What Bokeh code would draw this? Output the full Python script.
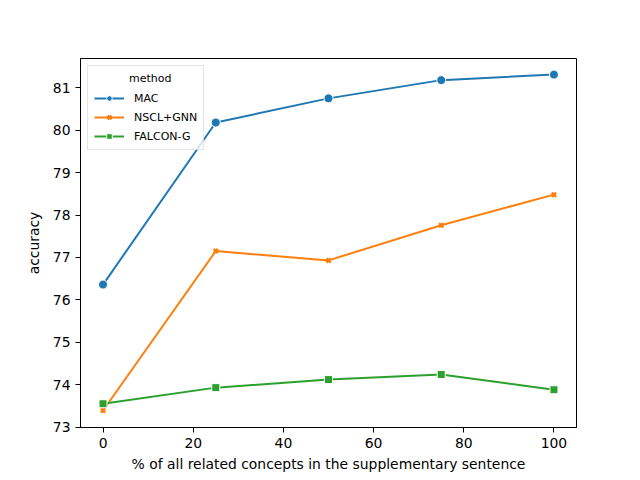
from bokeh.plotting import figure
from bokeh.models import FixedTicker, Range1d, Legend, LegendItem
from bokeh.embed import file_html
from bokeh.resources import INLINE

x_vals = [0, 25, 50, 75, 100]
mac = [76.36, 80.18, 80.75, 81.18, 81.31]
nscl_gnn = [73.39, 77.15, 76.93, 77.76, 78.48]
falcon_g = [73.55, 73.93, 74.12, 74.24, 73.88]
series_names = ["MAC", "NSCL+GNN", "FALCON-G"]
x_ticks = [0, 20, 40, 60, 80, 100]
y_ticks = [73, 74, 75, 76, 77, 78, 79, 80, 81]

colors = ["#1f77b4", "#ff7f0e", "#2ca02c"]
font = "DejaVu Sans"

p = figure(width=640, height=480, output_backend="svg", toolbar_location=None,
           x_range=Range1d(-5, 105), y_range=Range1d(72.99, 81.69),
           min_border_left=80, min_border_right=64, min_border_top=58, min_border_bottom=53)
p.grid.visible = False
p.outline_line_color = "black"
p.outline_line_width = 1
p.background_fill_color = "white"
p.border_fill_color = "white"

for ax in (p.xaxis[0], p.yaxis[0]):
    ax.major_tick_in = 0
    ax.major_tick_out = 5
    ax.minor_tick_line_color = None
    ax.axis_line_color = "black"
    ax.major_tick_line_color = "black"
    ax.major_label_text_color = "black"
    ax.major_label_text_font = font
    ax.major_label_text_font_size = "13.9px"
    ax.axis_label_text_font = font
    ax.axis_label_text_font_size = "13.9px"
    ax.axis_label_text_font_style = "normal"
    ax.axis_label_text_color = "black"
    ax.major_label_standoff = 5

p.xaxis[0].ticker = FixedTicker(ticks=x_ticks)
p.yaxis[0].ticker = FixedTicker(ticks=y_ticks)
p.xaxis.axis_label = "% of all related concepts in the supplementary sentence"
p.yaxis.axis_label = "accuracy"
p.xaxis.axis_label_standoff = 5
p.yaxis.axis_label_standoff = 8

items = []
data = [mac, nscl_gnn, falcon_g]
for name, ys, c, m in zip(series_names, data, colors, ["circle", "x", "square"]):
    r1 = p.line(x_vals, ys, line_color=c, line_width=2)
    if m == "x":
        r2 = p.scatter(x_vals, ys, marker="x", size=6, line_color=c, line_width=2.5)
    elif m == "circle":
        r2 = p.scatter(x_vals, ys, marker="circle", size=9, fill_color=c,
                       line_color="white", line_width=1)
    else:
        r2 = p.scatter(x_vals, ys, marker="square", size=8, fill_color=c,
                       line_color="white", line_width=1)
    items.append(LegendItem(label=name, renderers=[r1, r2]))

legend = Legend(items=items, location="top_left", title="\u00a0" * 10 + "method")
legend.title_text_font = font
legend.title_text_font_size = "11px"
legend.title_text_font_style = "normal"
legend.title_text_color = "black"
legend.label_text_font = font
legend.label_text_font_size = "11px"
legend.label_text_color = "black"
legend.glyph_width = 30
legend.glyph_height = 14
legend.label_height = 14
legend.label_standoff = 10
legend.spacing = 5
legend.padding = 6
legend.margin = 7
legend.border_line_color = "#cccccc"
legend.background_fill_alpha = 0.8
legend.title_standoff = 6
p.add_layout(legend)

open("out.html", "w").write(file_html(p, INLINE))
